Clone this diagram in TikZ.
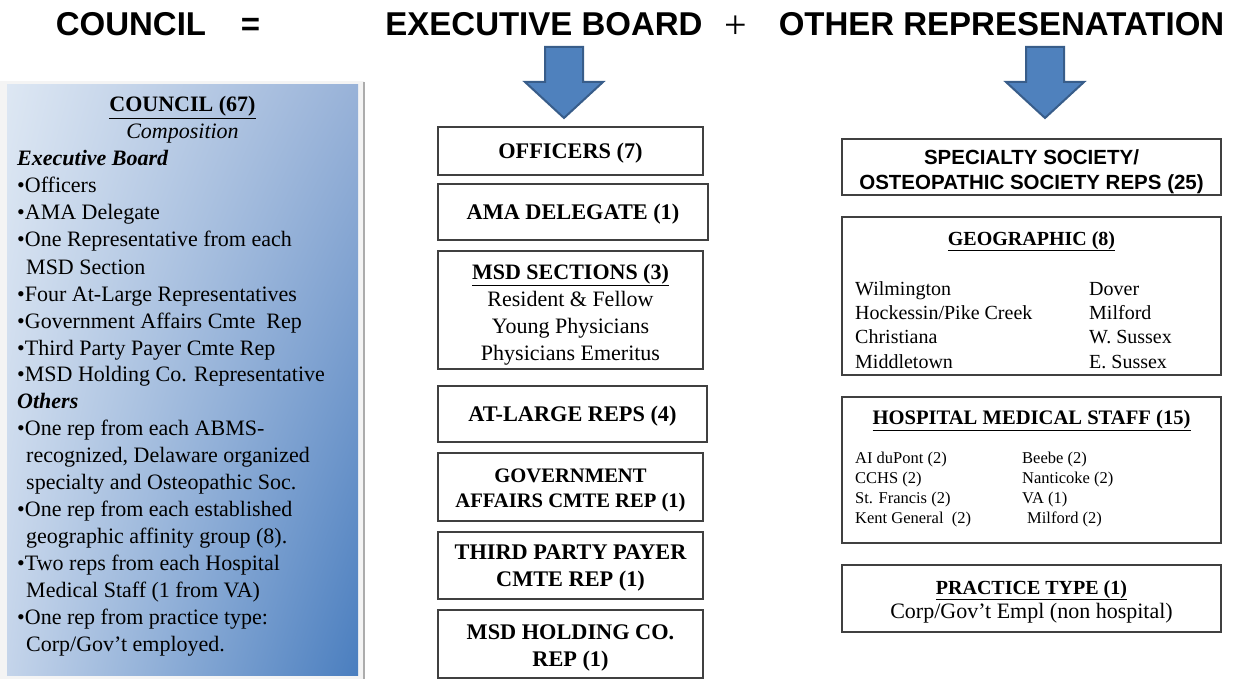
\documentclass[tikz,border=0pt]{standalone}
\usepackage{fontspec}
\usetikzlibrary{shadings}
\setmainfont{Liberation Serif}
\newfontfamily\arialf{Liberation Sans}
\definecolor{arrowfill}{HTML}{4F81BD}
\definecolor{arrowline}{HTML}{385D8A}
\definecolor{boxline}{HTML}{404040}
\definecolor{panelTL}{HTML}{DDE7F3}
\definecolor{panelTR}{HTML}{98B2D8}
\definecolor{panelBL}{HTML}{C4D4EA}
\definecolor{panelBR}{HTML}{4A7EBF}
\begin{document}
\begin{tikzpicture}[x=1pt,y=-1pt,
  titletext/.style={font=\arialf\bfseries\fontsize{33}{36}\selectfont, anchor=base, inner sep=0pt},
  bigarrow/.style={fill=arrowfill, draw=arrowline, line width=2pt, line join=miter},
  ebox/.style={draw=boxline, line width=1.5pt, fill=white, inner sep=0pt, align=center,
    text depth=0pt, font=\bfseries\fontsize{22.3}{26}\selectfont},
  etwo/.style={inner sep=0pt, align=center, font=\bfseries\fontsize{22.3}{27}\selectfont},
  rbox/.style={draw=boxline, line width=1.5pt, fill=white, inner sep=0pt,
    minimum width=379pt},
  ltxt/.style={anchor=base west, inner sep=0pt, font=\fontsize{22}{26}\selectfont},
  ctxt/.style={anchor=base, inner sep=0pt, font=\fontsize{22}{26}\selectfont},
  mtxt/.style={anchor=base, inner sep=0pt, font=\fontsize{22}{26}\selectfont},
  mtitle/.style={anchor=base, inner sep=0pt, font=\bfseries\fontsize{22}{26}\selectfont},
  gtxt/.style={anchor=base west, inner sep=0pt, font=\fontsize{20}{24}\selectfont},
  htxt/.style={anchor=base west, inner sep=0pt, font=\fontsize{16.5}{20}\selectfont},
]
\useasboundingbox (0,0) rectangle (1234,679);

% ---------- title ----------
\node[titletext] (tcouncil) at (131,36) {COUNCIL};
\node[titletext] (teq) at (250.5,36) {=};
\node[titletext] (texec) at (544,36) {EXECUTIVE BOARD};
\node[anchor=base, inner sep=0pt, font=\fontsize{40}{40}\selectfont] (tplus) at (736,39) {+};
\node[titletext] (tother) at (1001.5,36) {OTHER REPRESENATATION};

% ---------- arrows ----------
\draw[bigarrow] (545,47) -- (583,47) -- (583,82) -- (603,82) -- (564,118) -- (525,82) -- (545,82) -- cycle;
\draw[bigarrow] (1026,47) -- (1064,47) -- (1064,82) -- (1084,82) -- (1045,118) -- (1006,82) -- (1026,82) -- cycle;

% ---------- left panel ----------
\fill[gray!9] (0,81) rectangle (364,679);
\draw[gray!65, line width=2pt] (364,82) -- (364,679);
\shade[upper left=panelTL, upper right=panelTR, lower left=panelBL, lower right=panelBR]
  (7,85) rectangle (358,675);

\node[ctxt, font=\bfseries\fontsize{22}{26}\selectfont] (l1) at (182.5,112) {\underline{COUNCIL (67)}};
\node[ctxt, font=\itshape\fontsize{22}{26}\selectfont] (l2) at (182.5,139) {Composition};
\node[ltxt, font=\bfseries\itshape\fontsize{22}{26}\selectfont] (l3) at (17,166) {Executive Board};
\node[ltxt] (l4) at (17,193) {•Officers};
\node[ltxt] (l5) at (17,220) {•AMA Delegate};
\node[ltxt] (l6) at (17,247) {•One Representative from each};
\node[ltxt] (l7) at (26,274) {MSD Section};
\node[ltxt] (l8) at (17,301) {•Four At-Large Representatives};
\node[ltxt] (l9) at (17,328) {•Government Affairs Cmte\ \ Rep};
\node[ltxt] (l10) at (17,355) {•Third Party Payer Cmte Rep};
\node[ltxt] (l11) at (17,381) {•MSD Holding Co. Representative};
\node[ltxt, font=\bfseries\itshape\fontsize{22}{26}\selectfont] (l12) at (17,408) {Others};
\node[ltxt] (l13) at (17,435) {•One rep from each ABMS-};
\node[ltxt] (l14) at (26,462) {recognized, Delaware organized};
\node[ltxt] (l15) at (26,489) {specialty and Osteopathic Soc.};
\node[ltxt] (l16) at (17,516) {•One rep from each established};
\node[ltxt] (l17) at (26,543) {geographic affinity group (8).};
\node[ltxt] (l18) at (17,570) {•Two reps from each Hospital};
\node[ltxt] (l19) at (26,597) {Medical Staff (1 from VA)};
\node[ltxt] (l20) at (17,624) {•One rep from practice type:};
\node[ltxt] (l21) at (26,651) {Corp/Gov’t employed.};

% ---------- middle column ----------
\node[ebox, minimum width=265pt, minimum height=48pt] (officers) at (570.5,151) {OFFICERS (7)};
\node[ebox, minimum width=270pt, minimum height=56pt] (ama) at (573,212) {AMA DELEGATE (1)};
\node[ebox, minimum width=265pt, minimum height=118pt] (msd) at (570.5,310) {};
\node[mtitle] (msdt) at (570.5,279) {\underline{MSD SECTIONS (3)}};
\node[mtxt] (msd1) at (570.5,306) {Resident \& Fellow};
\node[mtxt] (msd2) at (570.5,333) {Young Physicians};
\node[mtxt] (msd3) at (570.5,360) {Physicians Emeritus};
\node[ebox, minimum width=269pt, minimum height=56pt] (atlarge) at (572.5,414) {AT-LARGE REPS (4)};
\node[ebox, minimum width=265pt, minimum height=68pt] (gov) at (570.5,487) {};
\node[etwo, font=\bfseries\fontsize{20.6}{25}\selectfont] (govt) at ([yshift=-3pt]gov.center) {GOVERNMENT\\AFFAIRS CMTE REP (1)};
\node[ebox, minimum width=265pt, minimum height=67pt] (third) at (570.5,565.5) {};
\node[etwo] (thirdt) at ([yshift=-3pt]third.center) {THIRD PARTY PAYER\\CMTE REP (1)};
\node[ebox, minimum width=265pt, minimum height=68pt] (holding) at (570.5,644) {};
\node[etwo] (holdingt) at ([yshift=-3.5pt]holding.center) {MSD HOLDING CO.\\REP (1)};

% ---------- right column ----------
\node[rbox, minimum height=56pt] (spec) at (1031.5,167) {};
\node[inner sep=0pt, align=center, font=\arialf\bfseries\fontsize{20.5}{25}\selectfont] (spect) at ([yshift=-5pt]spec.center) {SPECIALTY SOCIETY/\\OSTEOPATHIC SOCIETY REPS (25)};

\node[rbox, minimum height=158pt] (geo) at (1031.5,296) {};
\node[mtitle, font=\bfseries\fontsize{20}{24}\selectfont] (geot) at (1031.5,245) {\underline{GEOGRAPHIC (8)}};
\node[gtxt] (g1) at (855,295) {Wilmington};
\node[gtxt] (g2) at (855,319) {Hockessin/Pike Creek};
\node[gtxt] (g3) at (855,343) {Christiana};
\node[gtxt] (g4) at (855,368) {Middletown};
\node[gtxt] (g5) at (1089,295) {Dover};
\node[gtxt] (g6) at (1089,319) {Milford};
\node[gtxt] (g7) at (1089,343) {W. Sussex};
\node[gtxt] (g8) at (1089,368) {E. Sussex};

\node[rbox, minimum height=146pt] (hosp) at (1031.5,470) {};
\node[mtitle, font=\bfseries\fontsize{20.6}{24}\selectfont] (hospt) at (1031.5,424) {\underline{HOSPITAL MEDICAL STAFF (15)}};
\node[htxt] (h1) at (855,463) {AI duPont (2)};
\node[htxt] (h2) at (855,483) {CCHS (2)};
\node[htxt] (h3) at (855,503) {St. Francis (2)};
\node[htxt] (h4) at (855,523) {Kent General\ \ (2)};
\node[htxt] (h5) at (1022,463) {Beebe (2)};
\node[htxt] (h6) at (1022,483) {Nanticoke (2)};
\node[htxt] (h7) at (1022,503) {VA (1)};
\node[htxt] (h8) at (1027,523) {Milford (2)};

\node[rbox, minimum height=67pt] (prac) at (1031.5,598.5) {};
\node[mtitle, font=\bfseries\fontsize{20}{24}\selectfont] (pract) at (1031.5,594) {\underline{PRACTICE TYPE (1)}};
\node[mtxt, font=\fontsize{22}{26}\selectfont] (prac1) at (1031.5,618) {Corp/Gov’t Empl (non hospital)};
\end{tikzpicture}
\end{document}
